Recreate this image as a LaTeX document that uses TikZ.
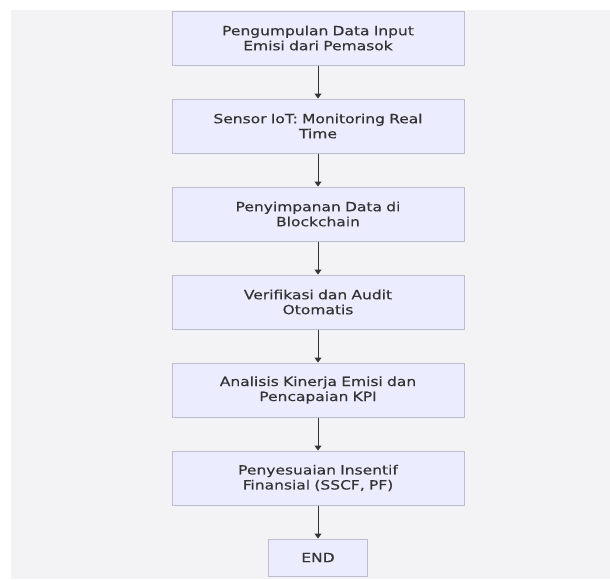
\documentclass[tikz,border=0pt]{standalone}
\usepackage{fontspec}
\setmainfont[FakeStretch=1.22,FakeBold=0.4]{DejaVu Sans}
\usetikzlibrary{positioning,arrows.meta}

\definecolor{pagegray}{HTML}{F3F3F5}
\definecolor{boxfill}{HTML}{ECECFF}
\definecolor{boxline}{HTML}{BDBDD2}
\definecolor{linegray}{HTML}{333333}

\tikzstyle{stepbox} = [rectangle, minimum width=292pt, minimum height=54pt, text width=285pt, align=center, draw=boxline, line width=1pt, fill=boxfill, text=linegray, font=\fontsize{12.7}{15}\selectfont]
\tikzstyle{endbox} = [stepbox, minimum width=99pt, minimum height=37pt, text width=80pt]
\tikzstyle{arrow} = [line width=1pt, draw=linegray, -{Triangle[length=5pt,width=7pt]}]

\begin{document}
\begin{tikzpicture}[node distance=33pt]

% Background
\useasboundingbox (0,0) rectangle (610pt,-579pt);
\fill[pagegray] (11pt,-10pt) rectangle (610pt,-579pt);

% Nodes
\node (input) [stepbox] at (318pt,-38pt) {Pengumpulan Data Input\\Emisi dari Pemasok};
\node (sensor) [stepbox, below=of input] {Sensor IoT: Monitoring Real\\Time};
\node (storage) [stepbox, below=of sensor] {Penyimpanan Data di\\Blockchain};
\node (audit) [stepbox, below=of storage] {Verifikasi dan Audit\\Otomatis};
\node (analysis) [stepbox, below=of audit] {Analisis Kinerja Emisi dan\\Pencapaian KPI};
\node (incentive) [stepbox, below=of analysis] {Penyesuaian Insentif\\Finansial (SSCF, PF)};
\node (end) [endbox, below=of incentive] {END};

% Arrows
\draw [arrow] (input) -- (sensor);
\draw [arrow] (sensor) -- (storage);
\draw [arrow] (storage) -- (audit);
\draw [arrow] (audit) -- (analysis);
\draw [arrow] (analysis) -- (incentive);
\draw [arrow] (incentive) -- (end);

\end{tikzpicture}
\end{document}
